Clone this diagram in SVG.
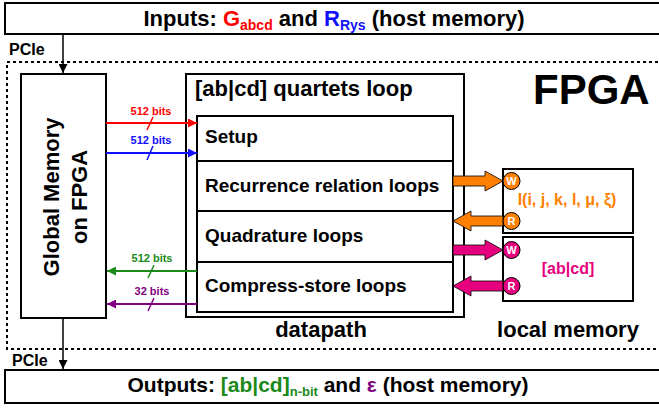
<svg xmlns="http://www.w3.org/2000/svg" width="659" height="409" viewBox="0 0 659 409">
<style>
text{font-family:"Liberation Sans",Arial,sans-serif;font-weight:bold;fill:#000}
.box{fill:#fff;stroke:#000;stroke-width:2}
.lbl{font-size:11px}
.pcie{font-size:16px}
.row{font-size:19px}
.big{font-size:22px}
.circ{stroke:#000;stroke-width:1}
.cl{font-size:11px;fill:#fff;text-anchor:middle}
.blk{stroke:#000;stroke-width:0.8}
</style>
<defs>
<marker id="mk" viewBox="0 0 10 10" refX="10" refY="5" markerUnits="userSpaceOnUse" markerWidth="9" markerHeight="9" orient="auto"><path d="M0,0L10,5L0,10z" fill="#000"/></marker>
<marker id="mr" viewBox="0 0 10 10" refX="10" refY="5" markerUnits="userSpaceOnUse" markerWidth="9" markerHeight="9" orient="auto"><path d="M0,0L10,5L0,10z" fill="#ff0000"/></marker>
<marker id="mb" viewBox="0 0 10 10" refX="10" refY="5" markerUnits="userSpaceOnUse" markerWidth="9" markerHeight="9" orient="auto"><path d="M0,0L10,5L0,10z" fill="#1010ff"/></marker>
<marker id="mg" viewBox="0 0 10 10" refX="10" refY="5" markerUnits="userSpaceOnUse" markerWidth="9" markerHeight="9" orient="auto"><path d="M0,0L10,5L0,10z" fill="#1a8a1a"/></marker>
<marker id="mp" viewBox="0 0 10 10" refX="10" refY="5" markerUnits="userSpaceOnUse" markerWidth="9" markerHeight="9" orient="auto"><path d="M0,0L10,5L0,10z" fill="#800080"/></marker>
</defs>
<rect width="659" height="409" fill="#fff"/>

<g id="fpga">
<rect x="7" y="62" width="670" height="287" fill="none" stroke="#000" stroke-width="2" stroke-dasharray="3 3"/>
<text x="533" y="104" font-size="42">FPGA</text>
</g>

<g id="inputs">
<rect class="box" x="5" y="3" width="670" height="31"/>
<text class="big" x="334" y="26" text-anchor="middle">Inputs: <tspan fill="#ff0000">G<tspan font-size="14" dy="4" fill="#ff0000">abcd</tspan></tspan><tspan dy="-4"> and </tspan><tspan fill="#1010ff">R<tspan font-size="14" dy="4" fill="#1010ff">Rys</tspan></tspan><tspan dy="-4"> (host memory)</tspan></text>
</g>

<g id="outputs">
<rect class="box" x="5" y="370" width="670" height="33"/>
<text x="328" y="392" text-anchor="middle" font-size="21">Outputs: <tspan fill="#1a8a1a">[ab|cd]<tspan font-size="13" dy="4" fill="#1a8a1a">n-bit</tspan></tspan><tspan dy="-4"> and </tspan><tspan fill="#800080">ε</tspan> (host memory)</text>
</g>

<g id="global-memory">
<rect class="box" x="21" y="74" width="85" height="244"/>
<text class="big" transform="translate(59,197) rotate(-90)" text-anchor="middle">Global Memory</text>
<text class="big" transform="translate(87,197) rotate(-90)" text-anchor="middle">on FPGA</text>
</g>

<g id="datapath">
<rect class="box" x="186" y="74" width="278" height="243"/>
<text class="big" x="195" y="96">[ab|cd] quartets loop</text>
<text class="big" x="321" y="337" text-anchor="middle">datapath</text>
</g>

<g id="setup">
<rect class="box" x="197" y="116" width="256" height="45"/>
<text class="row" x="205" y="143">Setup</text>
</g>
<g id="recurrence">
<rect class="box" x="197" y="161" width="256" height="50"/>
<text class="row" x="205" y="192">Recurrence relation loops</text>
</g>
<g id="quadrature">
<rect class="box" x="197" y="211" width="256" height="51"/>
<text class="row" x="205" y="242">Quadrature loops</text>
</g>
<g id="compress">
<rect class="box" x="197" y="262" width="256" height="50"/>
<text class="row" x="205" y="292">Compress-store loops</text>
</g>

<g id="local-I">
<rect class="box" x="503" y="169" width="130" height="64" stroke-width="1.5"/>
<text x="567" y="205" font-size="16" text-anchor="middle" style="fill:#ff8000">I(i, j, k, l, μ, ξ)</text>
</g>
<g id="local-abcd">
<rect class="box" x="503" y="237" width="130" height="64" stroke-width="1.5"/>
<text x="568" y="274" font-size="16" text-anchor="middle" style="fill:#e6007e">[ab|cd]</text>
</g>
<g id="local-memory-label">
<text class="big" x="568" y="337" text-anchor="middle">local memory</text>
</g>

<g id="connectors">
<text class="pcie" x="9" y="55">PCIe</text>
<line x1="63" y1="34" x2="63" y2="73" stroke="#000" stroke-width="1.5" marker-end="url(#mk)"/>
<text class="pcie" x="12" y="366">PCIe</text>
<line x1="63" y1="318" x2="63" y2="369" stroke="#000" stroke-width="1.5" marker-end="url(#mk)"/>

<line x1="106" y1="123" x2="197" y2="123" stroke="#ff0000" stroke-width="1.8" marker-end="url(#mr)"/>
<line x1="147" y1="130" x2="153" y2="117" stroke="#ff0000" stroke-width="1.5"/>
<text class="lbl" x="151" y="115" text-anchor="middle" style="fill:#ff0000">512 bits</text>

<line x1="106" y1="153" x2="197" y2="153" stroke="#1010ff" stroke-width="1.8" marker-end="url(#mb)"/>
<line x1="147" y1="160" x2="153" y2="146" stroke="#1010ff" stroke-width="1.5"/>
<text class="lbl" x="151" y="144" text-anchor="middle" style="fill:#1010ff">512 bits</text>

<line x1="197" y1="271" x2="107" y2="271" stroke="#1a8a1a" stroke-width="1.8" marker-end="url(#mg)"/>
<line x1="148" y1="278" x2="154" y2="265" stroke="#1a8a1a" stroke-width="1.5"/>
<text class="lbl" x="152" y="262" text-anchor="middle" style="fill:#1a8a1a">512 bits</text>

<line x1="197" y1="304" x2="107" y2="304" stroke="#800080" stroke-width="1.8" marker-end="url(#mp)"/>
<line x1="148" y1="311" x2="154" y2="298" stroke="#800080" stroke-width="1.5"/>
<text class="lbl" x="152" y="295" text-anchor="middle" style="fill:#800080">32 bits</text>

<polygon class="blk" points="453,176 485,176 485,171 503,181 485,191 485,186 453,186" fill="#ff8000"/>
<polygon class="blk" points="503,216 471,216 471,211 453,221 471,231 471,226 503,226" fill="#ff8000"/>
<polygon class="blk" points="453,245 485,245 485,240 503,250 485,260 485,255 453,255" fill="#e6007e"/>
<polygon class="blk" points="503,281 471,281 471,276 453,286 471,296 471,291 503,291" fill="#e6007e"/>

<circle class="circ" cx="511.5" cy="181" r="8.5" fill="#ff8000"/>
<text class="cl" x="511.5" y="185">W</text>
<circle class="circ" cx="511.5" cy="221" r="8.5" fill="#ff8000"/>
<text class="cl" x="511.5" y="225">R</text>
<circle class="circ" cx="511.5" cy="250" r="8.5" fill="#e6007e"/>
<text class="cl" x="511.5" y="254">W</text>
<circle class="circ" cx="511.5" cy="286" r="8.5" fill="#e6007e"/>
<text class="cl" x="511.5" y="290">R</text>
</g>
</svg>
